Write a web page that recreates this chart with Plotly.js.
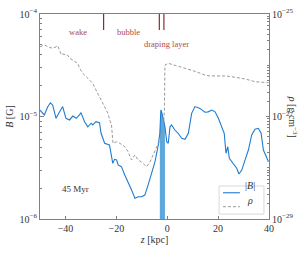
<!DOCTYPE html>
<html><head><meta charset="utf-8">
<script src="https://cdn.plot.ly/plotly-3.0.1.min.js"></script>
<style>html,body{margin:0;padding:0;background:#fff}#c{width:305px;height:260px}</style>
</head><body><div id="c"></div>
<script>
// |B| profile along z (kpc), in Gauss
const zB = [-50,-48.3,-47.0,-45.9,-45.0,-43.7,-43.0,-41.7,-41.1,-39.8,-38.4,-37.1,-35.8,-34.5,-33.9,-32.5,-31.2,-29.9,-29.3,-28.0,-26.6,-26.0,-24.6,-22.7,-22.0,-21.4,-20.7,-19.9,-19.3,-18.0,-16.7,-15.4,-14.0,-12.7,-11.4,-10.1,-8.8,-7.5,-6.1,-4.8,-3.5,-2.9,-2.5,-2.2,-1.6,-0.9,-0.2,0.4,1.1,1.7,3.0,4.3,5.7,7.0,8.3,8.9,9.6,10.9,12.9,14.8,16.1,17.5,18.8,20.1,21.4,22.4,23.1,23.8,24.4,26.0,27.3,28.2,29.3,30.6,31.9,33.2,34.5,35.8,36.9,37.8,39.1,39.8];
const Bval = [1.156e-5,1.035e-5,1.24e-5,1.36e-5,1.29e-5,9.6e-6,1.035e-5,1.156e-5,1.25e-5,9.6e-6,9.25e-6,1.01e-5,9.6e-6,1.035e-5,1.09e-5,8.9e-6,7.94e-6,8.6e-6,8.26e-6,8.9e-6,8.7e-6,6.86e-6,5.48e-6,5.27e-6,4.06e-6,3.49e-6,3.82e-6,3.77e-6,3.37e-6,3.24e-6,2.69e-6,2.31e-6,1.92e-6,1.59e-6,1.65e-6,1.65e-6,1.71e-6,2.15e-6,2.79e-6,3.62e-6,5.27e-6,6.86e-6,1.156e-5,1.11e-5,9.66e-6,7.94e-6,5.68e-6,5.48e-6,7.94e-6,8.26e-6,7.38e-6,6.86e-6,6.12e-6,6.0e-6,6.86e-6,8.6e-6,1.074e-5,1.25e-5,1.2e-5,1.1e-5,1.11e-5,1.156e-5,1.11e-5,9.6e-6,7.94e-6,6.86e-6,4.38e-6,5.07e-6,3.91e-6,3.49e-6,3.13e-6,2.75e-6,3.0e-6,3.77e-6,4.71e-6,6.6e-6,7.5e-6,7.67e-6,6.86e-6,4.71e-6,3.91e-6,3.62e-6];
// density profile along z (kpc), g cm^-3
const zRho = [-50,-48.3,-46.3,-45.0,-43.0,-41.6,-41.1,-39.2,-38.3,-37.1,-35.2,-34.4,-33.2,-31.2,-30.4,-29.3,-28.0,-26.0,-24.6,-23.3,-22.6,-21.9,-21.3,-19.9,-18.6,-16.7,-15.4,-14.0,-12.7,-11.4,-10.1,-8.1,-6.8,-4.8,-3.5,-2.2,-1.6,-1.1,-0.9,0.4,5.0,7.0,10.2,14.8,16.8,18.8,23.4,26.7,30.6,34.5,39.8];
const rhoVal = [2.30e-26,2.48e-26,2.24e-26,2.14e-26,2.38e-26,1.585e-26,1.65e-26,1.585e-26,1.37e-26,1.26e-26,1.09e-26,8.7e-27,6.96e-27,5.56e-27,5.15e-27,4.45e-27,3.29e-27,2.10e-27,1.445e-27,1.153e-27,8.55e-28,6.82e-28,3.0e-28,3.22e-28,3.0e-28,2.58e-28,2.06e-28,1.42e-28,1.77e-28,1.42e-28,1.29e-28,1.05e-28,1.29e-28,2.06e-28,3.0e-28,3.48e-28,4.70e-28,1.34e-27,1.01e-26,1.09e-26,9.4e-27,8.7e-27,7.83e-27,6.46e-27,6.17e-27,6.2e-27,6.17e-27,5.82e-27,5.40e-27,4.78e-27,4.57e-27];
// tick labels
const xTicks = [-40,-20,0,20,40];
const bTickVals = [1e-6,1e-5,1e-4];
const bTickText = ['10<sup>−6</sup>','10<sup>−5</sup>','10<sup>−4</sup>'];
const rhoTickVals = [1e-29,1e-27,1e-25];
const rhoTickText = ['10<sup>−29</sup>','10<sup>−27</sup>','10<sup>−25</sup>'];
// series names
const seriesNames = ['|<i>B</i>|', '<i>ρ</i>'];
// region markers
const regionBounds = [-25, -3.1, -1.3];
const regionLabels = ["wake", "bubble", "draping layer"];
const regionLabelZ = [-35.2, -15.1, -0.2];
const drapeRange = [-3.0, -0.9];
const timeLabel = "45 Myr";

const serif = "Liberation Serif, DejaVu Serif, serif";
const bColor = '#1f7bd0', rColor = '#9a9a9a';
const bandZ = [], bandB = [];
zB.forEach((z,i)=>{ if(z>=drapeRange[0] && z<=drapeRange[1]){ bandZ.push(z); bandB.push(Bval[i]); } });
const yMin = bTickVals[0];

const traces = [
  {x: bandZ, y: bandZ.map(()=>yMin), mode:'lines', line:{width:0,color:'rgba(0,0,0,0)'}, showlegend:false, hoverinfo:'skip'},
  {x: bandZ, y: bandB, mode:'lines', fill:'tonexty', fillcolor:'#5ea7dd', line:{width:0,color:'#5ea7dd'}, showlegend:false, hoverinfo:'skip'},
  {x: zB, y: Bval, mode:'lines', name:seriesNames[0], showlegend:false, line:{color:bColor, width:1.1}},
  {x: zRho, y: rhoVal, mode:'lines', name:seriesNames[1], showlegend:false, yaxis:'y2', line:{color:rColor, width:1, dash:'3px,2px'}}
];

const shapes = regionBounds.map(z=>({type:'line', xref:'x', yref:'paper', x0:z, x1:z, y0:0.922, y1:1, line:{color:'#8b2c2c', width:1.2}}));
// legend box (custom, matplotlib-style)
shapes.push({type:'rect', xref:'paper', yref:'paper', x0:0.782, x1:0.978, y0:0.024, y1:0.161, line:{color:'#d8d8d8', width:1}, fillcolor:'rgba(255,255,255,0.9)'});
shapes.push({type:'line', xref:'paper', yref:'paper', x0:0.799, x1:0.873, y0:0.128, y1:0.128, line:{color:bColor, width:1.1}});
shapes.push({type:'line', xref:'paper', yref:'paper', x0:0.799, x1:0.873, y0:0.060, y1:0.060, line:{color:rColor, width:1, dash:'3px,2px'}});

const annotations = regionLabels.map((t,i)=>({text:t, x:regionLabelZ[i], xref:'x', y: i<2?0.948:0.889, yref:'paper', showarrow:false, font:{family:serif, size:8.5, color:'#a84c4c'}}));
annotations.push({text:seriesNames[0], x:0.888, xanchor:'left', xref:'paper', y:0.128, yref:'paper', showarrow:false, font:{family:serif, size:10, color:'#333'}});
annotations.push({text:seriesNames[1], x:0.895, xanchor:'left', xref:'paper', y:0.055, yref:'paper', showarrow:false, font:{family:serif, size:10, color:'#333'}});
annotations.push({text:timeLabel, x:-36, xref:'x', y:0.112, yref:'paper', showarrow:false, font:{family:serif, size:9, color:'#333'}});
annotations.push({text:'<i>ρ</i> [g cm<sup>−3</sup>]', x:1.143, xref:'paper', y:0.5, yref:'paper', textangle:90, showarrow:false, font:{family:serif, size:10, color:'#333'}});

const axCommon = {showline:true, linecolor:'#808080', linewidth:1, ticks:'inside', ticklen:3.5, tickcolor:'#808080', showgrid:false, zeroline:false, tickfont:{family:serif, size:10, color:'#333'}};
const layout = {
  width:305, height:260, margin:{l:40, r:36, t:14, b:41},
  paper_bgcolor:'#fff', plot_bgcolor:'#fff', font:{family:serif, color:'#333'},
  xaxis: Object.assign({}, axCommon, {range:[-50,40], tickmode:'array', tickvals:xTicks, ticktext:xTicks.map(v=>v<0?'−'+(-v):String(v)), mirror:true, title:{text:'<i>z</i> [kpc]', font:{family:serif, size:10, color:'#333'}, standoff:2}}),
  yaxis: Object.assign({}, axCommon, {type:'log', range:[-6,-4], tickmode:'array', tickvals:bTickVals, ticktext:bTickText, minor:{ticks:'inside', ticklen:2, tickcolor:'#808080', dtick:'D1'}, title:{text:'<i>B</i> [G]', font:{family:serif, size:10, color:'#333'}, standoff:4}}),
  yaxis2: Object.assign({}, axCommon, {type:'log', range:[-29,-25], tickmode:'array', tickvals:rhoTickVals, ticktext:rhoTickText, overlaying:'y', side:'right', minor:{ticks:'inside', ticklen:2, tickcolor:'#808080', dtick:'D1'}}),
  shapes: shapes, annotations: annotations, showlegend:false
};
Plotly.newPlot('c', traces, layout, {staticPlot:true, displayModeBar:false});
</script></body></html>
